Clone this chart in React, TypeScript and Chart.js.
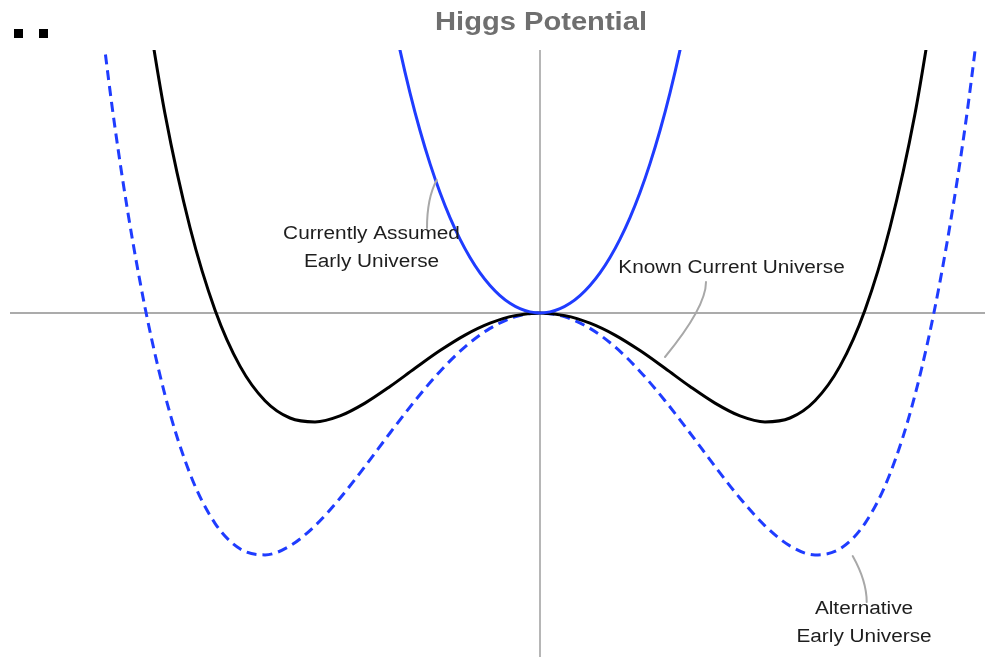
import React, { useEffect, useRef } from "react";
import { Chart, registerables } from "chart.js";

Chart.register(...registerables);

// ---- data (x: field value, y: potential) ----
const curveX = [
  -4.5, -4.25, -4.0, -3.75, -3.5, -3.25, -3.0, -2.75, -2.5, -2.25, -2.0, -1.75, -1.5, -1.25, -1.0, -0.75, -0.5, -0.25,
  0, 0.25, 0.5, 0.75, 1.0, 1.25, 1.5, 1.75, 2.0, 2.25, 2.5, 2.75, 3.0, 3.25, 3.5, 3.75, 4.0, 4.25, 4.5,
];
// Known Current Universe (black solid)
const knownY = [
  6.2, 4.9, 3.495, 1.992, 0.855, 0.031, -0.531, -0.877, -1.05, -1.089, -1.029, -0.901, -0.735, -0.553, -0.376, -0.221, -0.102, -0.026,
  0, -0.026, -0.102, -0.221, -0.376, -0.553, -0.735, -0.901, -1.029, -1.089, -1.05, -0.877, -0.531, 0.031, 0.855, 1.992, 3.495, 4.9, 6.2,
];
// Alternative Early Universe (blue dashed)
const alternativeY = [
  3.859, 1.853, 0.314, -0.82, -1.608, -2.103, -2.358, -2.419, -2.329, -2.128, -1.852, -1.534, -1.2, -0.877, -0.584, -0.338, -0.154, -0.039,
  0, -0.039, -0.154, -0.338, -0.584, -0.877, -1.2, -1.534, -1.852, -2.128, -2.329, -2.419, -2.358, -2.103, -1.608, -0.82, 0.314, 1.853, 3.859,
];
// Currently Assumed Early Universe (blue solid)
const assumedX = [
  -1.6, -1.5, -1.4, -1.3, -1.2, -1.1, -1.0, -0.9, -0.8, -0.7, -0.6, -0.5, -0.4, -0.3, -0.2, -0.1,
  0, 0.1, 0.2, 0.3, 0.4, 0.5, 0.6, 0.7, 0.8, 0.9, 1.0, 1.1, 1.2, 1.3, 1.4, 1.5, 1.6,
];
const assumedY = [
  3.65, 3.111, 2.629, 2.202, 1.825, 1.494, 1.205, 0.954, 0.739, 0.555, 0.401, 0.275, 0.174, 0.097, 0.043, 0.011,
  0, 0.011, 0.043, 0.097, 0.174, 0.275, 0.401, 0.555, 0.739, 0.954, 1.205, 1.494, 1.825, 2.202, 2.629, 3.111, 3.65,
];

// axis extents
const xRange = [-5.3, 4.45];
const yRange = [-3.44, 2.63];

// annotation labels: [text lines], anchor (x, y of first baseline), line gap in y units
const labelTexts = [
  ["Currently Assumed", "Early Universe"],
  ["Known Current Universe"],
  ["Alternative", "Early Universe"],
];
const labelAnchorsX = [-1.685, 1.915, 3.24];
const labelAnchorsY = [0.74, 0.4, -3.01];
const labelLineGap = 0.28;

// callout leader lines: from, control, to (data units)
const calloutFrom = [[-1.033, 1.33], [1.66, 0.31], [3.127, -2.43]];
const calloutCtrl = [[-1.13, 1.15], [1.66, 0.06], [3.267, -2.68]];
const calloutTo = [[-1.13, 0.85], [1.25, -0.44], [3.267, -2.89]];

const titleText = "Higgs Potential";

const toPoints = (xs: number[], ys: number[]) => xs.map((x, i) => ({ x, y: ys[i] }));

const annotationPlugin = {
  id: "higgsAnnotations",
  afterDatasetsDraw(chart: any) {
    const { ctx } = chart;
    const xs = chart.scales.x;
    const ys = chart.scales.y;
    ctx.save();
    // callouts
    ctx.strokeStyle = "#a8a8a8";
    ctx.lineWidth = 2;
    ctx.lineCap = "round";
    for (let i = 0; i < calloutFrom.length; i++) {
      ctx.beginPath();
      ctx.moveTo(xs.getPixelForValue(calloutFrom[i][0]), ys.getPixelForValue(calloutFrom[i][1]));
      ctx.quadraticCurveTo(
        xs.getPixelForValue(calloutCtrl[i][0]),
        ys.getPixelForValue(calloutCtrl[i][1]),
        xs.getPixelForValue(calloutTo[i][0]),
        ys.getPixelForValue(calloutTo[i][1])
      );
      ctx.stroke();
    }
    // labels
    ctx.fillStyle = "#1e1e1e";
    ctx.font = '18px "Liberation Sans", Arial, sans-serif';
    ctx.textAlign = "center";
    ctx.textBaseline = "alphabetic";
    for (let i = 0; i < labelTexts.length; i++) {
      labelTexts[i].forEach((t, j) => {
        const px = xs.getPixelForValue(labelAnchorsX[i]);
        const py = ys.getPixelForValue(labelAnchorsY[i] - j * labelLineGap);
        ctx.save();
        ctx.translate(px, py);
        ctx.scale(1.155, 1);
        ctx.fillText(t, 0, 0);
        ctx.restore();
      });
    }
    // title
    ctx.fillStyle = "#6f6f6f";
    ctx.font = 'bold 25px "Liberation Sans", Arial, sans-serif';
    ctx.save();
    ctx.translate(xs.getPixelForValue(0) + 1, 30);
    ctx.scale(1.165, 1);
    ctx.fillText(titleText, 0, 0);
    ctx.restore();
    // two small marks top-left
    ctx.fillStyle = "#000";
    ctx.fillRect(14, 29, 9, 9);
    ctx.fillRect(39, 29, 9, 9);
    ctx.restore();
  },
};

export default function App() {
  const canvasRef = useRef<HTMLCanvasElement | null>(null);

  useEffect(() => {
    document.body.style.margin = "0";
    const canvas = canvasRef.current;
    if (!canvas) return;
    const blue = "#1f3cff";
    const chart = new Chart(canvas, {
      type: "line",
      data: {
        datasets: [
          {
            label: "Currently Assumed Early Universe",
            data: toPoints(assumedX, assumedY),
            borderColor: blue,
            borderWidth: 3,
            pointRadius: 0,
            cubicInterpolationMode: "monotone",
            order: 1,
          },
          {
            label: "Known Current Universe",
            data: toPoints(curveX, knownY),
            borderColor: "#000000",
            borderWidth: 3,
            pointRadius: 0,
            cubicInterpolationMode: "monotone",
            order: 2,
          },
          {
            label: "Alternative Early Universe",
            data: toPoints(curveX, alternativeY),
            borderColor: blue,
            borderWidth: 3,
            borderDash: [10, 6],
            pointRadius: 0,
            cubicInterpolationMode: "monotone",
            order: 3,
          },
          {
            label: "x-axis",
            data: [
              { x: xRange[0], y: 0 },
              { x: xRange[1], y: 0 },
            ],
            borderColor: "#8f8f8f",
            borderWidth: 1.3,
            pointRadius: 0,
            order: 5,
          },
          {
            label: "y-axis",
            data: [
              { x: 0, y: yRange[0] },
              { x: 0, y: yRange[1] },
            ],
            borderColor: "#8f8f8f",
            borderWidth: 1.3,
            pointRadius: 0,
            order: 5,
          },
        ],
      },
      options: {
        responsive: false,
        animation: false,
        layout: { padding: { left: 10, top: 50, right: 0, bottom: 0 } },
        scales: {
          x: { type: "linear", min: xRange[0], max: xRange[1], display: false },
          y: { type: "linear", min: yRange[0], max: yRange[1], display: false },
        },
        plugins: {
          legend: { display: false },
          tooltip: { enabled: false },
          title: { display: false },
        },
      },
      plugins: [annotationPlugin],
    } as any);
    return () => chart.destroy();
  }, []);

  return (
    <canvas
      ref={canvasRef}
      width={985}
      height={657}
      style={{ position: "fixed", left: 0, top: 0, width: 985, height: 657 }}
    />
  );
}
